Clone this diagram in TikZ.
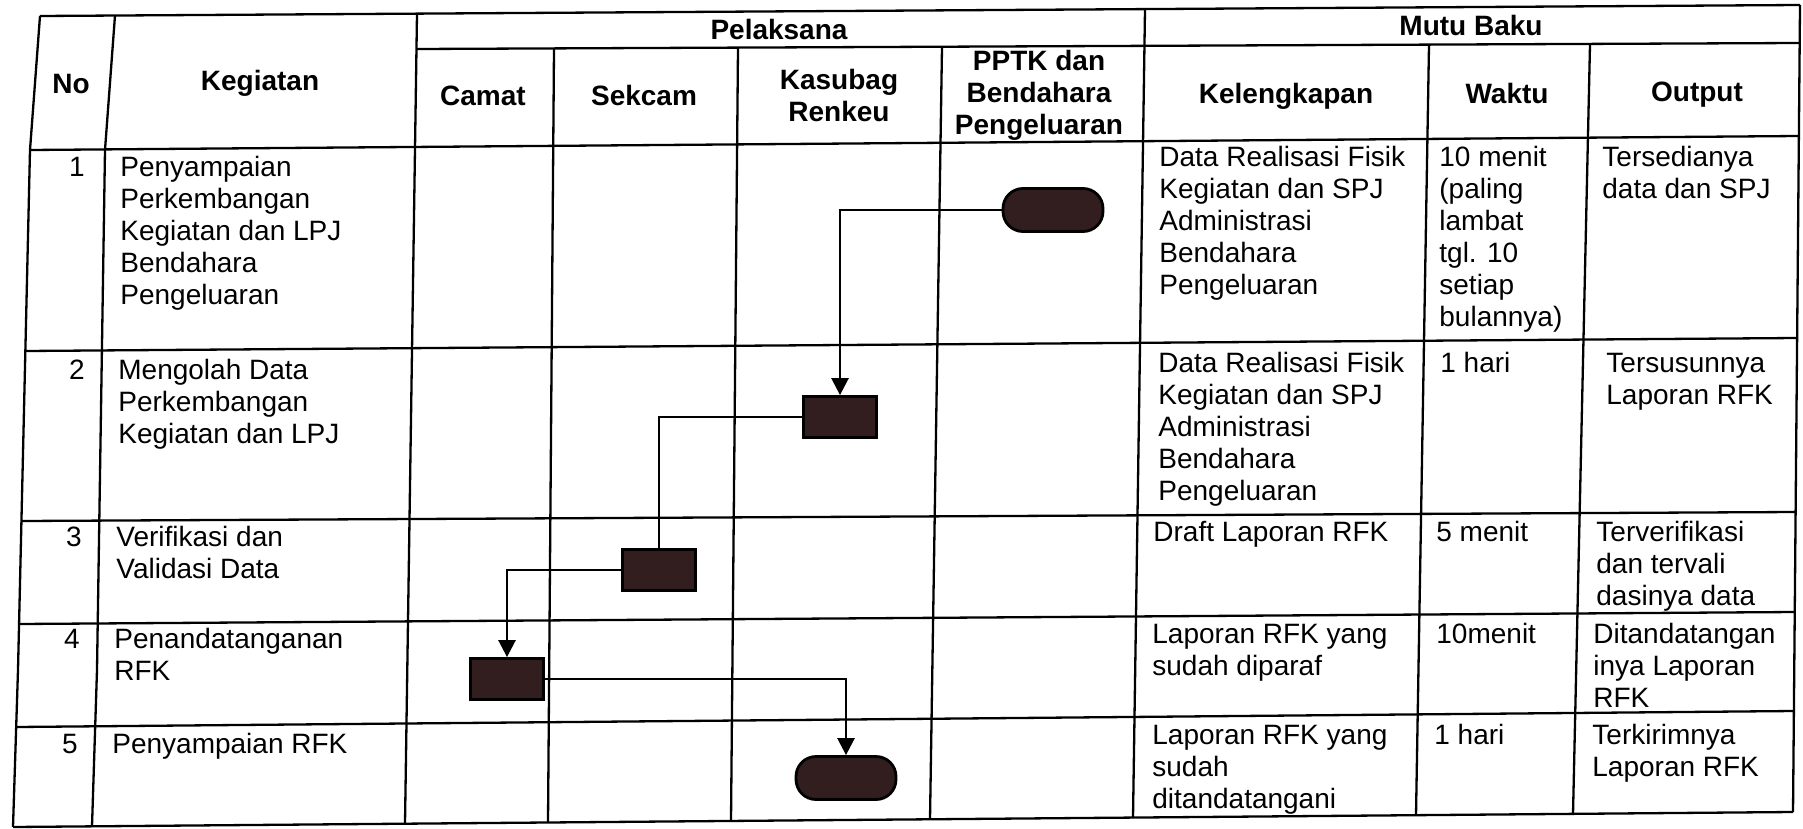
\documentclass[tikz,border=0pt]{standalone}
\usepackage{fontspec}
\setmainfont{Liberation Sans}
\usetikzlibrary{arrows.meta}
\definecolor{shapefill}{RGB}{50,30,30}
\begin{document}
\begin{tikzpicture}[x=0.5pt,y=-0.5pt,
  grid/.style={line width=1.15pt, black, line join=round},
  hdr/.style={font=\bfseries\fontsize{14}{16}\selectfont, align=center, inner sep=0pt},
  cell/.style={font=\fontsize{14}{16}\selectfont, align=left, anchor=north west, inner sep=0pt},
  num/.style={font=\fontsize{14}{16}\selectfont, anchor=north east, inner sep=0pt},
  term/.style={draw=black, line width=1.4pt, fill=shapefill, rounded corners=10pt, minimum width=50pt, minimum height=21.5pt, inner sep=0pt},
  act/.style={draw=black, line width=1.4pt, fill=shapefill, minimum width=36.5pt, minimum height=20.5pt, inner sep=0pt},
  flow/.style={line width=1.3pt, black},
  arr/.style={flow, -{Triangle[width=8.5pt,length=8.5pt]}}
]
\fill[white] (0,0) rectangle (1803,829);
\useasboundingbox (0,0) rectangle (1803,829);

% ---- table grid (follows the slight skew of the photographed form) ----
% horizontal rules
\draw[grid] (40,16) -- (1800,5);
\draw[grid] (416.5,49) -- (1799.7,43);
\draw[grid] (30,150) -- (1798.8,136);
\draw[grid] (25.4,351) -- (1797.1,338);
\draw[grid] (21.4,521) -- (1795.6,512);
\draw[grid] (19.1,624) -- (1794.7,612);
\draw[grid] (16.2,727) -- (1793.9,711);
\draw[grid] (13,827) -- (1793,812);
% vertical rules
\draw[grid] (40,16) -- (30,150) -- (18,670) -- (13,827);
\draw[grid] (115,15.5) -- (105,150) -- (97,670) -- (92,826.3);
\draw[grid] (417,13.6) -- (405,823.7);
\draw[grid] (554,48.4) -- (548,822.5);
\draw[grid] (738,47.6) -- (731,820.9);
\draw[grid] (942,46.7) -- (930,819.3);
\draw[grid] (1145,9.1) -- (1133,817.6);
\draw[grid] (1429,44.6) -- (1416,815.2);
\draw[grid] (1590,43.9) -- (1573,813.9);
\draw[grid] (1800,5) -- (1793,812);

% ---- headers ----
\node[hdr] (hNo) at (71,84) {No};
\node[hdr] (hKeg) at (260,83) {Kegiatan};
\node[hdr] (hPel) at (779,29) {Pelaksana};
\node[hdr] (hMutu) at (1471,25) {Mutu Baku};
\node[hdr] (hCamat) at (483,96) {Camat};
\node[hdr] (hSekcam) at (644,95) {Sekcam};
\node[hdr] (hKasubag) at (839,95) {Kasubag\\Renkeu};
\node[hdr] (hPPTK) at (1039,95) {PPTK dan\\Bendahara\\Pengeluaran};
\node[hdr] (hKel) at (1286,96) {Kelengkapan};
\node[hdr] (hWaktu) at (1507,93) {Waktu};
\node[hdr] (hOut) at (1697,95) {Output};

% ---- row 1 ----
\node[num] (n1) at (85,153.6) {\strut 1};
\node[cell] (k1) at (120,153.6) {\strut Penyampaian\\Perkembangan\\Kegiatan dan LPJ\\Bendahara\\Pengeluaran};
\node[cell] (l1) at (1159,143.6) {\strut Data Realisasi Fisik\\Kegiatan dan SPJ\\Administrasi\\Bendahara\\Pengeluaran};
\node[cell] (w1) at (1439,143.6) {\strut 10 menit\\(paling\\lambat\\tgl. 10\\setiap\\bulannya)};
\node[cell] (o1) at (1602,143.6) {\strut Tersedianya\\data dan SPJ};

% ---- row 2 ----
\node[num] (n2) at (85,356.6) {\strut 2};
\node[cell] (k2) at (118,356.6) {\strut Mengolah Data\\Perkembangan\\Kegiatan dan LPJ};
\node[cell] (l2) at (1158,349.6) {\strut Data Realisasi Fisik\\Kegiatan dan SPJ\\Administrasi\\Bendahara\\Pengeluaran};
\node[cell] (w2) at (1440,349.6) {\strut 1 hari};
\node[cell] (o2) at (1606,349.6) {\strut Tersusunnya\\Laporan RFK};

% ---- row 3 ----
\node[num] (n3) at (82,523.6) {\strut 3};
\node[cell] (k3) at (116,523.6) {\strut Verifikasi dan\\Validasi Data};
\node[cell] (l3) at (1153,518.6) {\strut Draft Laporan RFK};
\node[cell] (w3) at (1436,518.6) {\strut 5 menit};
\node[cell] (o3) at (1596,518.6) {\strut Terverifikasi\\dan tervali\\dasinya data};

% ---- row 4 ----
\node[num] (n4) at (80,625.6) {\strut 4};
\node[cell] (k4) at (114,625.6) {\strut Penandatanganan\\RFK};
\node[cell] (l4) at (1152,620.6) {\strut Laporan RFK yang\\sudah diparaf};
\node[cell] (w4) at (1436,620.6) {\strut 10menit};
\node[cell] (o4) at (1593,620.6) {\strut Ditandatangan\\inya Laporan\\RFK};

% ---- row 5 ----
\node[num] (n5) at (78,730.6) {\strut 5};
\node[cell] (k5) at (112,730.6) {\strut Penyampaian RFK};
\node[cell] (l5) at (1152,721.6) {\strut Laporan RFK yang\\sudah\\ditandatangani};
\node[cell] (w5) at (1434,721.6) {\strut 1 hari};
\node[cell] (o5) at (1592,721.6) {\strut Terkirimnya\\Laporan RFK};

% ---- flow ----
\node[term] (start) at (1053,210) {};
\node[act] (olah) at (840,417) {};
\node[act] (verif) at (659,570) {};
\node[act] (ttd) at (507,679) {};
\node[term] (finish) at (846,778) {};

\draw[arr] (start.west) -| (olah.north);
\draw[flow] (olah.west) -| (verif.north);
\draw[arr] (verif.west) -| (ttd.north);
\draw[arr] (ttd.east) -| (finish.north);
\end{tikzpicture}
\end{document}
